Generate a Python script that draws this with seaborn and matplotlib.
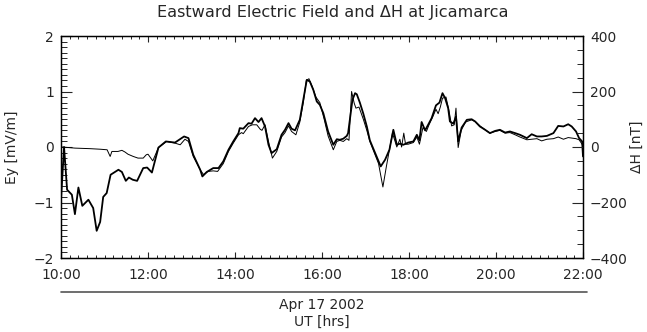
import matplotlib
matplotlib.use("Agg")
import matplotlib.pyplot as plt
import seaborn as sns
import pandas as pd
from matplotlib.ticker import MultipleLocator, FuncFormatter
from matplotlib.lines import Line2D

# ---- data (UT hours) ----
ey_time = [10.00, 10.07, 10.14, 10.25, 10.32, 10.40, 10.49, 10.63, 10.74, 10.82,
           10.90, 10.97, 11.05, 11.14, 11.32, 11.40, 11.49, 11.56, 11.65, 11.75,
           11.89, 11.98, 12.09, 12.24, 12.41, 12.62, 12.83, 12.93, 13.04, 13.20,
           13.25, 13.35, 13.50, 13.62, 13.73, 13.85, 13.96, 14.08, 14.11, 14.19,
           14.31, 14.38, 14.46, 14.54, 14.61, 14.69, 14.77, 14.84, 14.96, 15.07,
           15.15, 15.23, 15.30, 15.38, 15.49, 15.57, 15.65, 15.72, 15.80, 15.88,
           15.95, 16.03, 16.14, 16.26, 16.34, 16.41, 16.49, 16.57, 16.60, 16.64,
           16.70, 16.76, 16.80, 16.87, 16.95, 17.03, 17.10, 17.18, 17.26, 17.35,
           17.45, 17.55, 17.64, 17.72, 17.79, 17.87, 17.98, 18.10, 18.18, 18.24,
           18.29, 18.37, 18.44, 18.52, 18.62, 18.70, 18.77, 18.83, 18.90, 18.94,
           19.02, 19.08, 19.13, 19.21, 19.33, 19.44, 19.52, 19.63, 19.75, 19.86,
           19.98, 20.09, 20.21, 20.32, 20.44, 20.55, 20.71, 20.82, 20.94, 21.05,
           21.17, 21.32, 21.43, 21.55, 21.66, 21.74, 21.84, 21.91, 21.98, 22.00]
ey_value = [-0.95, 0.00, -0.77, -0.86, -1.21, -0.73, -1.06, -0.95, -1.10, -1.51,
            -1.35, -0.90, -0.83, -0.50, -0.41, -0.45, -0.61, -0.55, -0.59, -0.61,
            -0.38, -0.37, -0.46, -0.01, 0.10, 0.08, 0.19, 0.16, -0.14, -0.41,
            -0.53, -0.45, -0.38, -0.38, -0.26, -0.05, 0.10, 0.25, 0.34, 0.33,
            0.43, 0.42, 0.52, 0.45, 0.52, 0.37, 0.04, -0.11, -0.04, 0.22,
            0.31, 0.43, 0.33, 0.30, 0.49, 0.85, 1.21, 1.18, 1.03, 0.82,
            0.76, 0.61, 0.28, 0.04, 0.14, 0.13, 0.15, 0.20, 0.25, 0.49,
            0.85, 0.97, 0.95, 0.80, 0.60, 0.37, 0.12, -0.03, -0.18, -0.35,
            -0.23, -0.05, 0.31, 0.04, 0.06, 0.04, 0.08, 0.10, 0.22, 0.12,
            0.45, 0.30, 0.40, 0.52, 0.75, 0.80, 0.97, 0.88, 0.70, 0.46,
            0.42, 0.55, 0.10, 0.35, 0.49, 0.50, 0.46, 0.37, 0.31, 0.25,
            0.29, 0.31, 0.26, 0.28, 0.25, 0.22, 0.16, 0.23, 0.19, 0.19,
            0.20, 0.25, 0.38, 0.37, 0.41, 0.37, 0.28, 0.16, 0.10, -0.17]

dh_time = [10.03, 10.32, 10.67, 10.90, 11.06, 11.13, 11.17, 11.31, 11.40, 11.47,
           11.54, 11.66, 11.77, 11.89, 11.96, 12.00, 12.11, 12.24, 12.43, 12.62,
           12.74, 12.85, 12.93, 13.04, 13.20, 13.28, 13.38, 13.50, 13.60, 13.73,
           13.85, 13.96, 14.08, 14.15, 14.19, 14.31, 14.40, 14.50, 14.58, 14.62,
           14.69, 14.77, 14.86, 14.96, 15.07, 15.15, 15.23, 15.30, 15.40, 15.49,
           15.57, 15.64, 15.70, 15.78, 15.86, 15.95, 16.05, 16.14, 16.26, 16.34,
           16.41, 16.49, 16.57, 16.62, 16.68, 16.74, 16.78, 16.85, 16.95, 17.03,
           17.10, 17.20, 17.30, 17.40, 17.48, 17.55, 17.62, 17.68, 17.72, 17.79,
           17.83, 17.88, 17.92, 17.98, 18.10, 18.18, 18.24, 18.32, 18.40, 18.46,
           18.55, 18.62, 18.67, 18.72, 18.77, 18.85, 18.92, 18.98, 19.04, 19.08,
           19.13, 19.20, 19.30, 19.44, 19.52, 19.63, 19.75, 19.86, 19.98, 20.09,
           20.21, 20.32, 20.44, 20.55, 20.71, 20.82, 20.94, 21.05, 21.17, 21.32,
           21.43, 21.55, 21.66, 21.84, 21.91, 21.98, 22.00]
dh_value = [0, -4, -6, -8, -10, -34, -16, -16, -12, -18,
            -26, -34, -40, -40, -28, -26, -50, -2, 20, 14,
            8, 28, 20, -34, -82, -100, -88, -86, -88, -60,
            -16, 14, 44, 52, 48, 74, 80, 80, 64, 60,
            80, 20, -40, -16, 36, 52, 76, 56, 44, 90,
            160, 240, 246, 216, 180, 160, 100, 40, -10, 20,
            24, 20, 30, 24, 200, 158, 140, 144, 100, 60,
            20, -20, -60, -144, -70, -10, 50, 20, 0, 28,
            0, 50, 10, 10, 16, 36, 10, 70, 56, 80,
            110, 136, 120, 144, 176, 180, 130, 76, 80, 140,
            -2, 60, 90, 98, 92, 76, 62, 50, 56, 60,
            50, 52, 44, 36, 26, 28, 30, 22, 28, 30,
            36, 28, 34, 30, 26, 10, 0]

x_ticks = [10, 12, 14, 16, 18, 20, 22]

df_ey = pd.DataFrame({"UT": ey_time, "Ey": ey_value})
df_dh = pd.DataFrame({"UT": dh_time, "dH": dh_value})

sns.set_style("ticks")
plt.rcParams["font.family"] = ["DejaVu Sans"]
plt.rcParams["axes.linewidth"] = 0.9

W, H = 647, 332
fig = plt.figure(figsize=(W / 100, H / 100), dpi=100)
fig.patch.set_facecolor("white")
ax = fig.add_axes([61 / W, 74 / H, 522 / W, 222 / H])

sns.lineplot(data=df_ey, x="UT", y="Ey", ax=ax, color="black", linewidth=1.3,
             sort=False, estimator=None)
ax2 = ax.twinx()
sns.lineplot(data=df_dh, x="UT", y="dH", ax=ax2, color="black", linewidth=0.7,
             sort=False, estimator=None)

ax.set_xlim(10, 22)
ax.set_ylim(-2, 2)
ax2.set_ylim(-400, 400)

ax.set_xticks(x_ticks)
ax.xaxis.set_major_formatter(FuncFormatter(lambda v, p: f"{int(round(v)):02d}:00"))
ax.xaxis.set_minor_locator(MultipleLocator(0.2))
ax.yaxis.set_major_locator(MultipleLocator(1))
ax.yaxis.set_minor_locator(MultipleLocator(0.1))
ax.yaxis.set_major_formatter(FuncFormatter(lambda v, p: f"{int(round(v))}".replace("-", "\u2212")))
ax2.yaxis.set_major_locator(MultipleLocator(200))
ax2.yaxis.set_minor_locator(MultipleLocator(50))
ax2.yaxis.set_major_formatter(FuncFormatter(lambda v, p: f"{int(round(v))}".replace("-", "\u2212")))

ax.tick_params(axis="x", which="major", direction="in", top=True, bottom=True,
               length=4, width=0.8, labelsize=10, pad=7)
ax.tick_params(axis="x", which="minor", direction="in", top=True, bottom=True,
               length=2, width=0.7)
ax.tick_params(axis="y", which="major", direction="in", left=True, right=False,
               length=8, width=0.8, labelsize=10, pad=5)
ax.tick_params(axis="y", which="minor", direction="in", left=True, right=False,
               length=4, width=0.7)
ax2.tick_params(axis="y", which="major", direction="in", right=True,
                length=8, width=0.8, labelsize=10, pad=5)
ax2.tick_params(axis="y", which="minor", direction="in", right=True,
                length=4, width=0.7)

ax.set_xlabel("")
ax.set_ylabel("")
ax2.set_ylabel("")
for a in (ax, ax2):
    for s in a.spines.values():
        s.set_color("black")

fig.text(333 / W, 1 - 13 / H, "Eastward Electric Field and \u0394H at Jicamarca",
         ha="center", va="center", fontsize=11.6)
fig.text(12 / W, 1 - 147 / H, "Ey [mV/m]", rotation=90, ha="center", va="center",
         fontsize=10)
fig.text(637 / W, 1 - 147 / H, "\u0394H [nT]", rotation=90, ha="center", va="center",
         fontsize=10)
fig.text(322 / W, 1 - 305 / H, "Apr 17 2002", ha="center", va="center", fontsize=10)
fig.text(322 / W, 1 - 322 / H, "UT [hrs]", ha="center", va="center", fontsize=10)
fig.add_artist(Line2D([61 / W, 587 / W], [1 - 292 / H, 1 - 292 / H],
                      color="#555555", linewidth=1.2, transform=fig.transFigure))

fig.savefig("out.png", dpi=100, facecolor="white")
